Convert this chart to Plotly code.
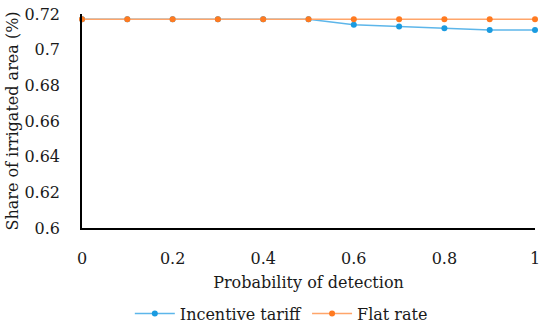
import plotly.graph_objects as go

prob = [0, 0.1, 0.2, 0.3, 0.4, 0.5, 0.6, 0.7, 0.8, 0.9, 1.0]
incentive = [0.717, 0.717, 0.717, 0.717, 0.717, 0.717, 0.714, 0.713, 0.712, 0.711, 0.711]
flat = [0.717] * 11

x_ticks = [0, 0.2, 0.4, 0.6, 0.8, 1]
x_labels = ["0", "0.2", "0.4", "0.6", "0.8", "1"]
y_ticks = [0.6, 0.62, 0.64, 0.66, 0.68, 0.7, 0.72]
y_labels = ["0.6", "0.62", "0.64", "0.66", "0.68", "0.7", "0.72"]

FONT = "DejaVu Serif"
fnt = dict(family=FONT, size=16, color="#1a1a1a")

fig = go.Figure()
fig.add_trace(go.Scatter(x=prob, y=incentive, name="Incentive tariff", mode="lines+markers",
                         line=dict(color="#5db6ea", width=1.5),
                         marker=dict(color="#1a9be0", size=6)))
fig.add_trace(go.Scatter(x=prob, y=flat, name="Flat rate", mode="lines+markers",
                         line=dict(color="#ffa56a", width=1.5),
                         marker=dict(color="#ff7a20", size=6)))

fig.update_layout(
    width=550, height=328,
    margin=dict(l=82, r=15, t=14, b=100, autoexpand=False),
    paper_bgcolor="white", plot_bgcolor="white",
    font=fnt,
    showlegend=True,
    legend=dict(orientation="h", x=0.44, xanchor="center", y=-0.32, yanchor="top",
                font=fnt, itemwidth=40, tracegroupgap=0),
    xaxis=dict(range=[0, 1], tickvals=x_ticks, ticktext=x_labels, tickfont=fnt,
               showgrid=False, zeroline=False, showline=True, linecolor="black", linewidth=1.5,
               ticks="", ticklabelstandoff=15, automargin=False,
               title=dict(text="Probability of detection", font=fnt, standoff=10)),
    yaxis=dict(range=[0.6, 0.72], tickvals=y_ticks, ticktext=y_labels, tickfont=fnt,
               showgrid=False, zeroline=False, showline=True, linecolor="black", linewidth=1.5,
               ticks="", ticklabelstandoff=17, automargin=False,
               title=dict(text="Share of irrigated area (%)", font=fnt, standoff=2)),
)
fig.update_traces(cliponaxis=False)
fig.write_html("out.html", config={"displayModeBar": False},
               post_script="document.body.style.margin='0';document.body.style.padding='0';")
